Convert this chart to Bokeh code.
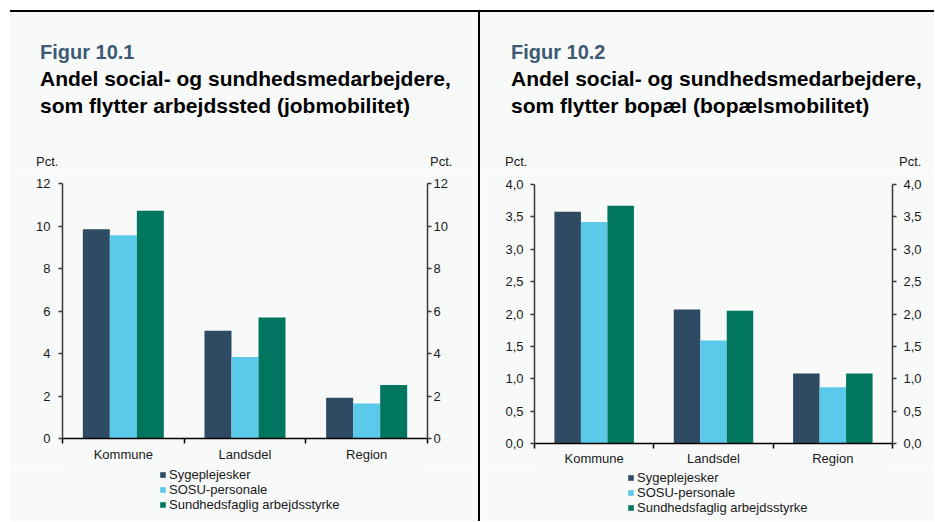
from bokeh.plotting import figure
from bokeh.models import (FactorRange, Range1d, LinearAxis, FixedTicker,
                          Legend, LegendItem, ColumnDataSource, Div)
from bokeh.transform import dodge
from bokeh.layouts import row, column
from bokeh.embed import file_html
from bokeh.resources import INLINE

# ---------------- data ----------------
categories = ["Kommune", "Landsdel", "Region"]
series_names = ["Sygeplejesker", "SOSU-personale", "Sundhedsfaglig arbejdsstyrke"]

# Figur 10.1 - jobmobilitet (pct.)
job_syge = [9.85, 5.07, 1.92]
job_sosu = [9.57, 3.83, 1.65]
job_sundh = [10.72, 5.70, 2.52]

# Figur 10.2 - bopaelsmobilitet (pct.)
bop_syge = [3.58, 2.07, 1.08]
bop_sosu = [3.42, 1.59, 0.87]
bop_sundh = [3.67, 2.05, 1.08]

y1_ticks = [0, 2, 4, 6, 8, 10, 12]
y1_labels = ["0", "2", "4", "6", "8", "10", "12"]
y2_ticks = [0.0, 0.5, 1.0, 1.5, 2.0, 2.5, 3.0, 3.5, 4.0]
y2_labels = ["0,0", "0,5", "1,0", "1,5", "2,0", "2,5", "3,0", "3,5", "4,0"]

fig1_label = "Figur 10.1"
fig1_title = ["Andel social- og sundhedsmedarbejdere,",
              "som flytter arbejdssted (jobmobilitet)"]
fig2_label = "Figur 10.2"
fig2_title = ["Andel social- og sundhedsmedarbejdere,",
              "som flytter bopæl (bopælsmobilitet)"]
unit_label = "Pct."

# ---------------- style ----------------
BG = "#f8f9f9"
COLORS = ["#2e4b63", "#5bc9ea", "#00765e"]
FONT = "Liberation Sans"
TXT = "#1a1a1a"
HEADER_H = 160
SERIES_COLS = ["s0", "s1", "s2"]


def span(text, left, top, size, bold=False, color=TXT):
    weight = "bold" if bold else "normal"
    return (f'<span style="position:absolute;left:{left}px;top:{top}px;'
            f"font-family:'{FONT}';font-size:{size}px;font-weight:{weight};"
            f'color:{color};white-space:nowrap;line-height:1;">{text}</span>')


def make_header(width, fig_label, title_lines, title_x, title_tops, pct_xs, pct_top):
    parts = [span(fig_label, title_x, title_tops[0], 20, True, "#3d5b75")]
    for line, top in zip(title_lines, title_tops[1:]):
        parts.append(span(line, title_x, top, 21, True, "#000000"))
    for x in pct_xs:
        parts.append(span(unit_label, x, pct_top, 13))
    html = (f'<div style="position:relative;width:{width}px;height:{HEADER_H}px;">'
            + "".join(parts) + "</div>")
    return Div(text=html, width=width, height=HEADER_H, margin=0,
               styles={"background-color": BG})


def base_fig(width, height, x_range, y_range, mb):
    return figure(width=width, height=height, output_backend="svg", toolbar_location=None,
                  x_range=x_range, y_range=y_range, x_axis_type=None, y_axis_type=None,
                  min_border_left=mb[0], min_border_right=mb[1],
                  min_border_top=mb[2], min_border_bottom=mb[3],
                  background_fill_color=BG, border_fill_color=BG,
                  outline_line_color=None, margin=0)


def make_source(series):
    d = dict(cat=categories)
    for c, s in zip(SERIES_COLS, series):
        d[c] = s
    return ColumnDataSource(d)


def make_chart(width, height, mb, ymax, yticks, ylabels, src,
               left_std, right_std, cat_std):
    p = base_fig(width, height, FactorRange(factors=categories, range_padding=0),
                 Range1d(0, ymax), mb)
    p.grid.visible = False

    offsets = [-0.222, 0.0, 0.222]
    for i, col in enumerate(SERIES_COLS):
        p.vbar(x=dodge("cat", offsets[i], range=p.x_range), top=col, width=0.222,
               source=src, fill_color=COLORS[i], line_color=None)

    overrides = {t: l for t, l in zip(yticks, ylabels)}
    for side, std in (("left", left_std), ("right", right_std)):
        ax = LinearAxis(ticker=FixedTicker(ticks=yticks, minor_ticks=[]),
                        major_label_overrides=overrides,
                        axis_line_color="#3a3a3a", axis_line_width=1.5,
                        major_tick_line_color="#3a3a3a", major_tick_line_width=1.5,
                        major_tick_in=0, major_tick_out=4,
                        minor_tick_line_color=None,
                        major_label_standoff=std,
                        major_label_text_font=FONT, major_label_text_font_size="13px",
                        major_label_text_color=TXT)
        p.add_layout(ax, side)

    n = len(categories)
    xax = LinearAxis(ticker=FixedTicker(ticks=[i + 0.5 for i in range(n)],
                                        minor_ticks=[float(i) for i in range(n + 1)]),
                     major_label_overrides={i + 0.5: c for i, c in enumerate(categories)},
                     axis_line_color="#000000", axis_line_width=1.5,
                     major_tick_line_color=None, major_tick_in=0, major_tick_out=5,
                     minor_tick_line_color="#000000", minor_tick_line_width=1.5,
                     minor_tick_in=0, minor_tick_out=5,
                     major_label_standoff=cat_std,
                     major_label_text_font=FONT, major_label_text_font_size="13px",
                     major_label_text_color=TXT)
    p.add_layout(xax, "below")
    return p


def make_legend_fig(width, height, mb, loc, src):
    # legend strip: same series/colours as the bars, drawn with zero width so that
    # only the legend swatches and labels show
    f = base_fig(width, height, FactorRange(factors=categories, range_padding=0),
                 Range1d(-2, -1), mb)
    f.grid.visible = False
    rs = [f.vbar(x="cat", top=col, width=0, source=src,
                 fill_color=c, line_color=None)
          for col, c in zip(SERIES_COLS, COLORS)]
    legend = Legend(items=[LegendItem(label=nm, renderers=[r])
                           for nm, r in zip(series_names, rs)],
                    location=loc, orientation="vertical",
                    glyph_width=7, glyph_height=7, label_standoff=3,
                    label_height=14, spacing=0, padding=0, margin=0,
                    border_line_color=None, background_fill_alpha=0,
                    label_text_font=FONT, label_text_font_size="13px",
                    label_text_color=TXT)
    f.add_layout(legend)
    return f


src1 = make_source([job_syge, job_sosu, job_sundh])
src2 = make_source([bop_syge, bop_sosu, bop_sundh])

# panel 1 : x 10..478 ; panel 2 : x 480..934 ; header y 12..172
h1 = make_header(468, fig1_label, fig1_title, 30, [30, 56, 83], [26, 420], 143)
c1 = make_chart(468, 292, (52, 51, 11, 26), 12, y1_ticks, y1_labels, src1,
                left_std=8, right_std=2, cat_std=3)
l1 = make_legend_fig(468, 57, (52, 51, 0, 0), (97, 9), src1)

h2 = make_header(454, fig2_label, fig2_title, 31, [30, 56, 83], [25, 419], 143)
c2 = make_chart(454, 296, (54, 42, 12, 25), 4, y2_ticks, y2_labels, src2,
                left_std=7, right_std=7, cat_std=2)
l2 = make_legend_fig(454, 53, (54, 42, 0, 0), (93, 6), src2)

top_line = Div(width=924, height=2, margin=0, styles={"background-color": "#000000"})
divider = Div(width=2, height=509, margin=0, styles={"background-color": "#000000"})

layout = column(top_line,
                row(column(h1, c1, l1, spacing=0, margin=0), divider,
                    column(h2, c2, l2, spacing=0, margin=0), spacing=0, margin=0),
                spacing=0, margin=(10, 0, 0, 10))

open("out.html", "w").write(file_html(layout, INLINE))
